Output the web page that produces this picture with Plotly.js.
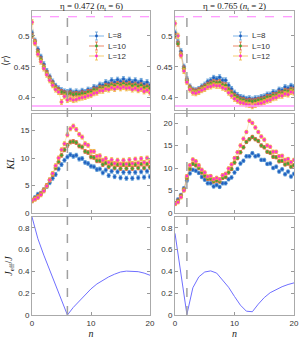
<!DOCTYPE html>
<html><head><meta charset="utf-8">
<script src="https://cdn.plot.ly/plotly-3.0.1.min.js"></script>
<style>html,body{margin:0;padding:0;background:#fff}#chart{width:299px;height:339px}</style>
</head><body><div id="chart"></div>
<script>
// ---------------- data ----------------
const n = [0,0.5,1,1.5,2,2.5,3,3.5,4,4.5,5,5.5,6,6.5,7,7.5,8,8.5,9,9.5,10,10.5,11,11.5,12,12.5,13,13.5,14,14.5,15,15.5,16,16.5,17,17.5,18,18.5,19,19.5,20];
const seriesNames = ['L=8','L=10','L=12'];
const columnTitles = ['η = 0.472 (<i>n</i><sub>t</sub> = 6)', 'η = 0.765 (<i>n</i><sub>t</sub> = 2)'];
const ntLeft = 6, ntRight = 2;
const rGOE = 0.5307, rPoisson = 0.3863;

// <r> , eta = 0.472
const rLeftL8  = [0.505,0.492,0.478,0.466,0.454,0.443,0.434,0.426,0.419,0.415,0.412,0.410,0.409,0.411,0.408,0.410,0.408,0.411,0.409,0.413,0.412,0.417,0.416,0.421,0.420,0.425,0.423,0.428,0.425,0.429,0.426,0.430,0.426,0.429,0.425,0.428,0.424,0.427,0.422,0.425,0.420];
const rLeftL10 = [0.500,0.490,0.474,0.462,0.450,0.440,0.431,0.423,0.416,0.412,0.409,0.407,0.406,0.407,0.405,0.406,0.405,0.407,0.406,0.409,0.409,0.413,0.412,0.416,0.415,0.419,0.418,0.421,0.419,0.422,0.420,0.423,0.420,0.422,0.419,0.421,0.418,0.420,0.416,0.418,0.415];
const rLeftL12 = [0.522,0.488,0.470,0.458,0.447,0.437,0.428,0.420,0.413,0.409,0.393,0.402,0.396,0.398,0.396,0.397,0.399,0.400,0.401,0.403,0.404,0.407,0.408,0.411,0.411,0.414,0.413,0.416,0.414,0.417,0.415,0.417,0.415,0.416,0.413,0.415,0.412,0.414,0.410,0.412,0.408];
// <r> , eta = 0.765
const rRightL8  = [0.505,0.490,0.475,0.450,0.430,0.418,0.413,0.412,0.414,0.418,0.421,0.426,0.428,0.432,0.430,0.433,0.428,0.428,0.420,0.414,0.408,0.404,0.401,0.400,0.398,0.399,0.397,0.399,0.399,0.401,0.402,0.405,0.405,0.409,0.408,0.413,0.412,0.417,0.415,0.419,0.417];
const rRightL10 = [0.500,0.487,0.470,0.447,0.428,0.416,0.411,0.410,0.412,0.415,0.418,0.421,0.423,0.425,0.424,0.425,0.421,0.420,0.413,0.408,0.403,0.400,0.397,0.396,0.394,0.395,0.394,0.395,0.396,0.397,0.398,0.401,0.401,0.404,0.404,0.408,0.407,0.411,0.410,0.413,0.412];
const rRightL12 = [0.520,0.500,0.468,0.443,0.425,0.413,0.408,0.407,0.409,0.412,0.414,0.417,0.418,0.420,0.419,0.419,0.416,0.414,0.408,0.403,0.398,0.395,0.392,0.391,0.389,0.388,0.386,0.388,0.390,0.391,0.393,0.395,0.396,0.399,0.400,0.403,0.403,0.406,0.405,0.409,0.408];
const rError = 0.004;

// KL , eta = 0.472
const klLeftL8  = [2.3,2.8,3.4,3.6,4.2,4.8,5.5,6.3,7.0,8.0,8.8,9.6,10.2,10.6,10.3,10.5,9.8,9.9,9.2,9.0,8.5,8.4,7.9,8.0,7.3,7.8,6.8,7.6,6.6,7.5,6.4,7.4,6.3,7.4,6.3,7.4,6.4,7.5,6.5,7.6,6.6];
const klLeftL10 = [2.2,2.6,3.0,3.5,4.2,5.0,6.0,7.0,8.2,9.3,10.5,11.5,12.3,12.9,13.0,12.8,12.2,12.0,11.2,11.0,10.2,10.1,9.5,9.5,8.8,9.1,8.4,8.9,8.2,8.8,8.1,8.8,8.1,8.8,8.1,8.8,8.2,8.9,8.2,8.9,8.3];
const klLeftL12 = [2.3,2.5,2.8,3.3,4.0,4.9,6.0,7.2,8.6,10.0,11.5,12.6,14.2,15.3,15.8,15.2,14.3,13.8,12.6,12.3,11.2,11.2,10.3,10.4,9.6,9.9,9.2,9.7,9.0,9.6,8.9,9.6,8.9,9.7,9.0,9.8,9.1,9.9,9.2,10.0,9.3];
// KL , eta = 0.765
const klRightL8  = [2.2,3.0,4.0,5.5,7.2,8.8,9.6,9.4,8.9,8.0,7.4,6.6,6.6,5.9,6.2,5.8,6.6,6.6,7.5,7.9,9.0,9.8,11.0,11.6,12.6,12.6,13.3,12.6,12.8,11.8,11.8,10.9,11.0,10.0,10.3,9.2,9.7,8.6,9.2,8.1,8.7];
const klRightL10 = [2.1,2.7,3.8,5.2,7.8,9.8,10.9,10.6,10.0,9.0,8.3,7.6,7.6,7.0,7.2,7.0,7.8,8.0,9.0,9.8,11.2,12.2,13.5,14.6,15.8,16.4,16.9,16.4,16.0,15.0,14.6,13.6,13.4,12.5,12.4,11.5,11.6,10.8,11.0,10.3,10.6];
const klRightL12 = [2.0,2.4,3.5,5.0,8.2,10.6,11.9,11.5,10.6,9.6,9.0,8.1,8.2,7.5,7.8,7.5,8.4,8.7,9.9,10.8,12.2,13.5,15.0,16.5,18.0,20.5,20.0,19.0,18.0,17.0,16.3,15.0,14.7,13.6,13.6,12.6,12.7,11.8,12.0,11.3,11.8];
const klError = 0.35;

// J_eff / J
const nJ = [0,1,2,3,4,5,6,7,8,9,10,11,12,13,14,15,16,17,18,19,20];
const jeffLeft  = [0.90,0.70,0.55,0.41,0.28,0.14,0.0,0.07,0.13,0.19,0.24,0.285,0.32,0.35,0.375,0.395,0.403,0.403,0.398,0.385,0.365];
const jeffRight = [0.75,0.375,0.005,0.25,0.35,0.395,0.405,0.385,0.325,0.255,0.17,0.09,0.035,0.03,0.10,0.16,0.205,0.235,0.26,0.28,0.295];

// ---------------- styles ----------------
const markerColors = ['#1f5fbf','#3fa535','#ff2fd0'];
const barColors    = ['#5b9bd5','#e0663a','#f0b23a'];
const lineColors   = ['rgba(91,155,213,0.4)','rgba(224,102,58,0.4)','rgba(240,178,58,0.4)'];
const legendLineColors = ['#a9cdef','#f2b09a','#f8dca0'];

const W = 299, H = 339;
const px = v => v / W, py = v => 1 - v / H;

const traces = [];
function addSeries(ys, err, xa, ya) {
  ys.forEach((y, i) => {
    traces.push({
      x: n, y: y, type: 'scatter', mode: 'lines+markers',
      name: seriesNames[i], xaxis: xa, yaxis: ya, showlegend: false,
      line: {color: lineColors[i], width: 0.8},
      marker: {color: markerColors[i], size: 3.5, line: {color: barColors[i], width: 0.6}},
      error_y: {type: 'constant', value: err, color: barColors[i], thickness: 0.8, width: 1.5},
      hoverinfo: 'skip'
    });
  });
}
addSeries([rLeftL8, rLeftL10, rLeftL12], rError, 'x', 'y');
addSeries([rRightL8, rRightL10, rRightL12], rError, 'x2', 'y2');
addSeries([klLeftL8, klLeftL10, klLeftL12], klError, 'x3', 'y3');
addSeries([klRightL8, klRightL10, klRightL12], klError, 'x4', 'y4');
traces.push({x: nJ, y: jeffLeft, type: 'scatter', mode: 'lines', xaxis: 'x5', yaxis: 'y5', showlegend: false, line: {color: '#6f6fff', width: 1}});
traces.push({x: nJ, y: jeffRight, type: 'scatter', mode: 'lines', xaxis: 'x6', yaxis: 'y6', showlegend: false, line: {color: '#6f6fff', width: 1}});

const colDom = [[px(32), px(150)], [px(175), px(294)]];
const rowDom = [[py(110), py(11)], [py(213), py(114)], [py(315), py(217)]];
const tickFont = {family: 'Liberation Sans, Arial, sans-serif', size: 8, color: '#333'};
const titleFont = {family: 'Liberation Serif, Times New Roman, serif', size: 10, color: '#222'};
const headFont = {family: 'Liberation Serif, Times New Roman, serif', size: 9, color: '#222'};

function xAxis(col, row) {
  const k = row*2 + col + 1;
  const ax = {domain: colDom[col], range: [0, 20], tickvals: [0, 10, 20],
    showticklabels: row === 2, ticks: 'inside', ticklen: 3, tickcolor: '#999',
    showline: true, linecolor: '#aaa', linewidth: 1, mirror: 'ticks',
    zeroline: false, showgrid: false, tickfont: tickFont,
    anchor: 'y' + (k === 1 ? '' : k)};
  if (row === 2) ax.title = {text: '<i>n</i>', font: titleFont, standoff: 2};
  return ax;
}
function yAxis(col, row, range, tickvals, title) {
  const k = row*2 + col + 1;
  const ax = {domain: rowDom[row], range: range, tickvals: tickvals,
    ticks: 'inside', ticklen: 3, tickcolor: '#999',
    showline: true, linecolor: '#aaa', linewidth: 1, mirror: 'ticks',
    zeroline: false, showgrid: false, tickfont: tickFont,
    anchor: 'x' + (k === 1 ? '' : k)};
  if (title) ax.title = {text: title, font: titleFont, standoff: 3};
  return ax;
}

const annotations = [
  {text: columnTitles[0], x: (colDom[0][0]+colDom[0][1])/2, y: py(6), xref: 'paper', yref: 'paper', showarrow: false, font: headFont, xanchor: 'center', yanchor: 'middle'},
  {text: columnTitles[1], x: (colDom[1][0]+colDom[1][1])/2, y: py(6), xref: 'paper', yref: 'paper', showarrow: false, font: headFont, xanchor: 'center', yanchor: 'middle'}
];
const shapes = [
  {type: 'line', xref: 'x5', yref: 'paper', x0: ntLeft, x1: ntLeft, y0: rowDom[2][0], y1: rowDom[0][1], line: {color: '#a0a0a0', width: 1.5, dash: 'dash'}},
  {type: 'line', xref: 'x6', yref: 'paper', x0: ntRight, x1: ntRight, y0: rowDom[2][0], y1: rowDom[0][1], line: {color: '#a0a0a0', width: 1.5, dash: 'dash'}},
  {type: 'line', xref: 'x domain', yref: 'y', x0: 0, x1: 1, y0: rGOE, y1: rGOE, line: {color: '#ff7bff', width: 1, dash: 'dash'}},
  {type: 'line', xref: 'x2 domain', yref: 'y2', x0: 0, x1: 1, y0: rGOE, y1: rGOE, line: {color: '#ff7bff', width: 1, dash: 'dash'}},
  {type: 'line', xref: 'x domain', yref: 'y', x0: 0, x1: 1, y0: rPoisson, y1: rPoisson, line: {color: '#ff9dff', width: 1.5}},
  {type: 'line', xref: 'x2 domain', yref: 'y2', x0: 0, x1: 1, y0: rPoisson, y1: rPoisson, line: {color: '#ff9dff', width: 1.5}}
];

// legend boxes (one per column), drawn as keys
const legendOrigins = [[89, 36], [233, 36]];
const legendRowGap = 10, keyLen = 15;
legendOrigins.forEach(([lx, ly]) => {
  seriesNames.forEach((name, i) => {
    const yy = ly + i * legendRowGap, cx = lx + keyLen / 2;
    shapes.push({type: 'line', xref: 'paper', yref: 'paper', x0: px(lx), x1: px(lx + keyLen), y0: py(yy), y1: py(yy), line: {color: legendLineColors[i], width: 1.5}});
    shapes.push({type: 'line', xref: 'paper', yref: 'paper', x0: px(cx), x1: px(cx), y0: py(yy - 4), y1: py(yy + 4), line: {color: barColors[i], width: 0.8}});
    shapes.push({type: 'line', xref: 'paper', yref: 'paper', x0: px(cx - 1.5), x1: px(cx + 1.5), y0: py(yy - 4), y1: py(yy - 4), line: {color: barColors[i], width: 0.8}});
    shapes.push({type: 'line', xref: 'paper', yref: 'paper', x0: px(cx - 1.5), x1: px(cx + 1.5), y0: py(yy + 4), y1: py(yy + 4), line: {color: barColors[i], width: 0.8}});
    shapes.push({type: 'circle', xref: 'paper', yref: 'paper', x0: px(cx - 1.4), x1: px(cx + 1.4), y0: py(yy + 1.4), y1: py(yy - 1.4), fillcolor: markerColors[i], line: {width: 0}});
    annotations.push({text: name, x: px(lx + keyLen + 2), y: py(yy), xref: 'paper', yref: 'paper', showarrow: false, xanchor: 'left', yanchor: 'middle', font: {family: 'Liberation Sans, Arial, sans-serif', size: 8, color: '#333'}});
  });
});

const layout = {
  width: W, height: H, margin: {l: 0, r: 0, t: 0, b: 0},
  paper_bgcolor: '#fff', plot_bgcolor: '#fff', showlegend: false,
  xaxis: xAxis(0,0), xaxis2: xAxis(1,0), xaxis3: xAxis(0,1), xaxis4: xAxis(1,1), xaxis5: xAxis(0,2), xaxis6: xAxis(1,2),
  yaxis:  yAxis(0,0,[0.38,0.54],[0.4,0.45,0.5],'⟨<i>r</i>⟩'),
  yaxis2: yAxis(1,0,[0.38,0.54],[0.4,0.45,0.5]),
  yaxis3: yAxis(0,1,[0,18],[0,5,10,15],'<i>KL</i>'),
  yaxis4: yAxis(1,1,[0,22],[0,5,10,15,20]),
  yaxis5: yAxis(0,2,[0,0.9],[0,0.2,0.4,0.6,0.8],'<i>J</i><sub>eff</sub>/<i>J</i>'),
  yaxis6: yAxis(1,2,[0,0.9],[0,0.2,0.4,0.6,0.8]),
  annotations: annotations,
  shapes: shapes
};

Plotly.newPlot('chart', traces, layout, {staticPlot: true, displayModeBar: false});
</script>
</body></html>
